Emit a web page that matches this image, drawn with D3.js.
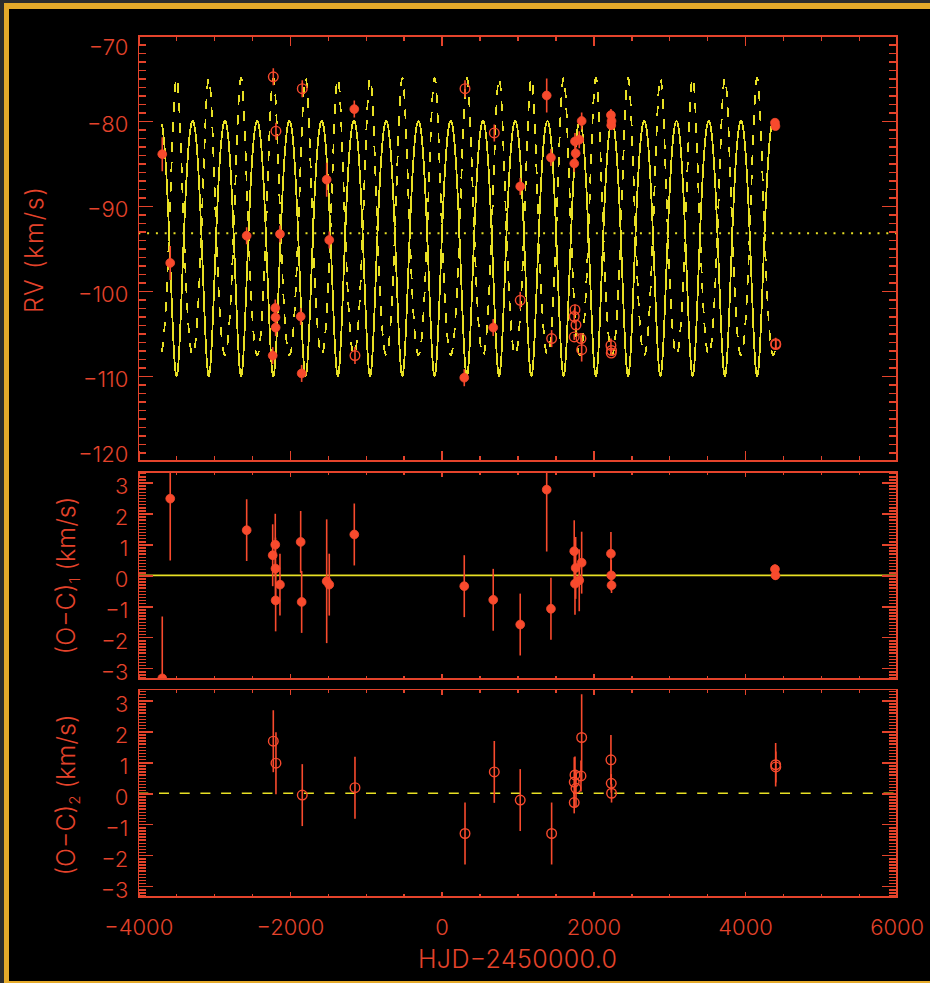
<!DOCTYPE html>
<html>
<head>
<meta charset="utf-8">
<script src="https://cdn.jsdelivr.net/npm/d3@7/dist/d3.min.js"></script>
<style>
  html, body { margin: 0; padding: 0; background: #2d2d2d; }
  svg { display: block; }
  text { font-family: Inter, "DejaVu Sans", sans-serif; font-weight: 300; fill: #e4432b; }
</style>
</head>
<body>
<svg id="chart" width="930" height="983"></svg>
<script>
// ---- Observations: primary component (filled symbols) ----
const primaryHJD = [-3684, -3579, -2571, -2228, -2194, -2191, -2189, -2132, -1859, -1846,
                    -1516, -1482, -1152, 298, 680, 1036, 1385, 1441, 1748, 1767,
                    1758, 1814, 1846, 2232, 2236, 2240, 4395, 4401];
const primaryRV  = [-83.9, -96.7, -93.5, -107.6, -102.0, -103.1, -104.3, -93.3, -103.0, -109.7,
                    -86.9, -94.0, -78.6, -110.2, -104.3, -87.7, -77.0, -84.3, -85.0, -83.8,
                    -82.4, -82.2, -80.0, -79.3, -80.5, -80.0, -80.2, -80.6];
const primaryErr = [2.0, 2.0, 1.0, 1.0, 1.0, 1.0, 1.0, 1.0, 1.0, 1.0,
                    2.0, 1.0, 1.0, 1.0, 1.0, 1.0, 2.0, 1.0, 1.0, 1.0,
                    1.0, 1.0, 1.0, 0.7, 0.5, 0.25, 0.15, 0.15];
const primaryOC  = [-3.33, 2.48, 1.46, 0.65, 0.99, 0.22, -0.81, -0.30, 1.08, -0.86,
                    -0.19, -0.30, 1.32, -0.35, -0.79, -1.59, 2.77, -1.08, 0.78, 0.24,
                    -0.27, -0.16, 0.41, 0.70, 0.0, -0.32, 0.2, 0.0];

// ---- Observations: secondary component (open symbols) ----
const secondaryHJD = [-2220, -2185, -1838, -1143, 308, 694, 1036, 1450, 1758, 1748,
                      1771, 1748, 1837, 1846, 2232, 2236, 2240, 4404, 4406];
const secondaryRV  = [-74.8, -81.2, -76.2, -107.6, -76.2, -81.4, -101.1, -105.6, -102.2, -103.0,
                      -104.0, -105.4, -105.6, -106.9, -106.4, -107.3, -107.0, -106.2, -106.3];
const secondaryErr = [1.0, 1.0, 1.0, 1.0, 1.0, 1.0, 1.0, 1.0, 0.6, 0.8,
                      0.6, 0.35, 0.5, 1.4, 0.8, 0.3, 0.3, 0.7, 0.5];
const secondaryOC  = [1.68, 0.97, -0.06, 0.18, -1.30, 0.69, -0.22, -1.30, 0.59, 0.36,
                      0.16, -0.30, 0.56, 1.8, 1.08, 0.32, 0.0, 0.92, 0.85];

// ---- Orbital solution ----
const orbitPeriod = 425.3;      // days
const periastronHJD = -3070.4;  // HJD - 2450000
const orbitEcc = 0.12;
const orbitOmegaDeg = 180;      // longitude of periastron of the primary
const gammaRV = -93.2;          // systemic velocity, km/s
const K1 = 15.0, K2 = 16.3;     // semi-amplitudes, km/s
const curveStartHJD = -3690, curveEndHJD = 4402;

// ---- Axis ticks ----
const xTicks = [-4000, -2000, 0, 2000, 4000, 6000];
const rvTicks = [-70, -80, -90, -100, -110, -120];
const ocTicks = [-3, -2, -1, 0, 1, 2, 3];

// ---- Drawing ----
const W = 930, H = 983;
const axisRed = "#e4432b", pointRed = "#f84a2d", yellow = "#e8e024";
const svg = d3.select("#chart");

svg.append("rect").attr("width", W).attr("height", H).attr("fill", "#2d2d2d");
svg.append("rect").attr("x", 4).attr("y", 3).attr("width", W).attr("height", H).attr("fill", "#e5aa2a");
svg.append("rect").attr("x", 9).attr("y", 9).attr("width", W).attr("height", 972).attr("fill", "#000");

const plotL = 138.3, plotR = 896.7;
const x = d3.scaleLinear().domain([-4000, 6000]).range([plotL, plotR]);

const panels = {
  rv:  { top: 36,    bottom: 461, domain: [-120, -70],   xTick: [10, 5] },
  oc1: { top: 471.7, bottom: 679, domain: [-3.35, 3.35], xTick: [5.5, 3] },
  oc2: { top: 689.5, bottom: 897, domain: [-3.35, 3.35], xTick: [5.5, 3] }
};
Object.entries(panels).forEach(([k, p]) => {
  p.y = d3.scaleLinear().domain(p.domain).range([p.bottom, p.top]);
  svg.append("clipPath").attr("id", "clip-" + k)
    .append("rect").attr("x", plotL).attr("y", p.top)
    .attr("width", plotR - plotL).attr("height", p.bottom - p.top);
});

function styleAxis(g) {
  g.select(".domain").remove();
  g.attr("color", axisRed);
  g.selectAll(".tick line").attr("stroke-width", 1.5).attr("shape-rendering", "crispEdges");
}

const minus = v => (v < 0 ? "\u2212" + Math.abs(v) : String(v));

function drawAxes(p, majorY, minorY, showX) {
  const lab = p.y;
  // left axis with labels
  const left = svg.append("g").attr("transform", `translate(${plotL},0)`)
    .call(d3.axisLeft(lab).tickValues(majorY).tickSize(-15).tickPadding(10).tickFormat(minus));
  styleAxis(left);
  left.selectAll(".tick text")
    .style("font-size", "22px")
    .attr("dy", "0.36em")
    .attr("y", d => {
      const c = Math.max(p.top + 10.5, Math.min(p.bottom - 7, lab(d) + 3));
      return c - lab(d);
    });
  styleAxis(svg.append("g").attr("transform", `translate(${plotL},0)`)
    .call(d3.axisLeft(lab).tickValues(minorY).tickSize(-7.5).tickFormat("")));
  // right axis
  styleAxis(svg.append("g").attr("transform", `translate(${plotR},0)`)
    .call(d3.axisRight(lab).tickValues(majorY).tickSize(-15).tickFormat("")));
  styleAxis(svg.append("g").attr("transform", `translate(${plotR},0)`)
    .call(d3.axisRight(lab).tickValues(minorY).tickSize(-7.5).tickFormat("")));
  // top & bottom x ticks
  const xMinor = d3.range(-4000, 6001, 500);
  styleAxis(svg.append("g").attr("transform", `translate(0,${p.top})`)
    .call(d3.axisTop(x).tickValues(xTicks).tickSize(-p.xTick[0]).tickFormat("")));
  styleAxis(svg.append("g").attr("transform", `translate(0,${p.top})`)
    .call(d3.axisTop(x).tickValues(xMinor).tickSize(-p.xTick[1]).tickFormat("")));
  const bot = svg.append("g").attr("transform", `translate(0,${p.bottom})`)
    .call(d3.axisBottom(x).tickValues(xTicks).tickSize(-p.xTick[0])
      .tickFormat(showX ? minus : ""));
  styleAxis(bot);
  bot.selectAll(".tick text").style("font-size", "22px").attr("y", 29.7).attr("dy", "0.36em");
  styleAxis(svg.append("g").attr("transform", `translate(0,${p.bottom})`)
    .call(d3.axisBottom(x).tickValues(xMinor).tickSize(-p.xTick[1]).tickFormat("")));
  // frame
  svg.append("rect").attr("x", plotL).attr("y", p.top)
    .attr("width", plotR - plotL).attr("height", p.bottom - p.top)
    .attr("fill", "none").attr("stroke", axisRed).attr("stroke-width", 1.6)
    .attr("shape-rendering", "crispEdges");
}

// Keplerian radial-velocity model
const omega = orbitOmegaDeg * Math.PI / 180;
function phaseTerm(t) {
  let M = 2 * Math.PI * (t - periastronHJD) / orbitPeriod;
  M = ((M % (2 * Math.PI)) + 2 * Math.PI) % (2 * Math.PI);
  let E = M;
  for (let i = 0; i < 40; i++) E -= (E - orbitEcc * Math.sin(E) - M) / (1 - orbitEcc * Math.cos(E));
  const nu = 2 * Math.atan2(Math.sqrt(1 + orbitEcc) * Math.sin(E / 2), Math.sqrt(1 - orbitEcc) * Math.cos(E / 2));
  return Math.cos(nu + omega) + orbitEcc * Math.cos(omega);
}
const curveHJD = d3.range(curveStartHJD, curveEndHJD, 2);

// ---- RV panel ----
const rv = panels.rv;
const rvLayer = svg.append("g").attr("clip-path", "url(#clip-rv)");
const line = d3.line().x(d => x(d[0])).y(d => rv.y(d[1]));
rvLayer.append("path")
  .attr("d", line(curveHJD.map(t => [t, gammaRV + K1 * phaseTerm(t)])))
  .attr("fill", "none").attr("stroke", yellow).attr("stroke-width", 1.8)
  .attr("shape-rendering", "crispEdges");
rvLayer.append("path")
  .attr("d", line(curveHJD.map(t => [t, gammaRV - K2 * phaseTerm(t)])))
  .attr("fill", "none").attr("stroke", yellow).attr("stroke-width", 1.8)
  .attr("shape-rendering", "crispEdges")
  .attr("stroke-dasharray", "10,10");
rvLayer.append("line")
  .attr("x1", x(-4000)).attr("x2", x(6000))
  .attr("y1", rv.y(gammaRV)).attr("y2", rv.y(gammaRV))
  .attr("stroke", yellow).attr("stroke-width", 2).attr("stroke-dasharray", "2,6.8");

function drawPoints(layer, yScale, hjd, vals, errs, filled) {
  const data = hjd.map((t, i) => ({ t, v: vals[i], e: errs[i] }));
  layer.selectAll(null).data(data).enter().append("line")
    .attr("x1", d => x(d.t)).attr("x2", d => x(d.t))
    .attr("y1", d => yScale(d.v - d.e)).attr("y2", d => yScale(d.v + d.e))
    .attr("stroke", pointRed).attr("stroke-width", 1.6);
  layer.selectAll(null).data(data).enter().append("circle")
    .attr("cx", d => x(d.t)).attr("cy", d => yScale(d.v))
    .attr("r", filled ? 4.4 : 4.8)
    .attr("fill", filled ? pointRed : "none")
    .attr("stroke", pointRed).attr("stroke-width", filled ? 0.8 : 1.4);
}
drawPoints(rvLayer, rv.y, primaryHJD, primaryRV, primaryErr, true);
drawPoints(rvLayer, rv.y, secondaryHJD, secondaryRV, secondaryErr, false);

// ---- O-C panels ----
const oc1 = panels.oc1, oc2 = panels.oc2;
const oc1Layer = svg.append("g").attr("clip-path", "url(#clip-oc1)");
oc1Layer.append("line").attr("x1", x(-4000)).attr("x2", x(6000))
  .attr("y1", oc1.y(0)).attr("y2", oc1.y(0))
  .attr("stroke", yellow).attr("stroke-width", 1.6);
drawPoints(oc1Layer, oc1.y, primaryHJD, primaryOC, primaryErr, true);

const oc2Layer = svg.append("g").attr("clip-path", "url(#clip-oc2)");
oc2Layer.append("line").attr("x1", x(-4000)).attr("x2", x(6000))
  .attr("y1", oc2.y(0)).attr("y2", oc2.y(0))
  .attr("stroke", yellow).attr("stroke-width", 1.6).attr("stroke-dasharray", "10,10.7");
drawPoints(oc2Layer, oc2.y, secondaryHJD, secondaryOC, secondaryErr, false);

// ---- Axes ----
drawAxes(rv, rvTicks, d3.range(-120, -69, 1), false);
const ocMinor = d3.range(-33, 34).map(i => i / 10);
drawAxes(oc1, ocTicks, ocMinor, false);
drawAxes(oc2, ocTicks, ocMinor, true);

// ---- Axis titles ----
svg.append("text").attr("transform", "translate(43,250) rotate(-90)")
  .attr("text-anchor", "middle").style("font-size", "25px")
  .attr("textLength", 126).attr("lengthAdjust", "spacing")
  .text("RV (km/s)");

function ocTitle(cy, sub) {
  const t = svg.append("text").attr("transform", `translate(75,${cy}) rotate(-90)`)
    .attr("text-anchor", "middle").style("font-size", "25px");
  t.append("tspan").text("(O\u2212C)");
  t.append("tspan").attr("dy", 5).style("font-size", "15px").text(sub);
  t.append("tspan").attr("dy", -5).text(" (km/s)");
}
ocTitle(575.5, "1");
ocTitle(795, "2");

svg.append("text").attr("x", 517.5).attr("y", 959).attr("dy", "0.36em")
  .attr("text-anchor", "middle").style("font-size", "25px")
  .attr("textLength", 199).attr("lengthAdjust", "spacing")
  .text("HJD\u22122450000.0");
</script>
</body>
</html>
